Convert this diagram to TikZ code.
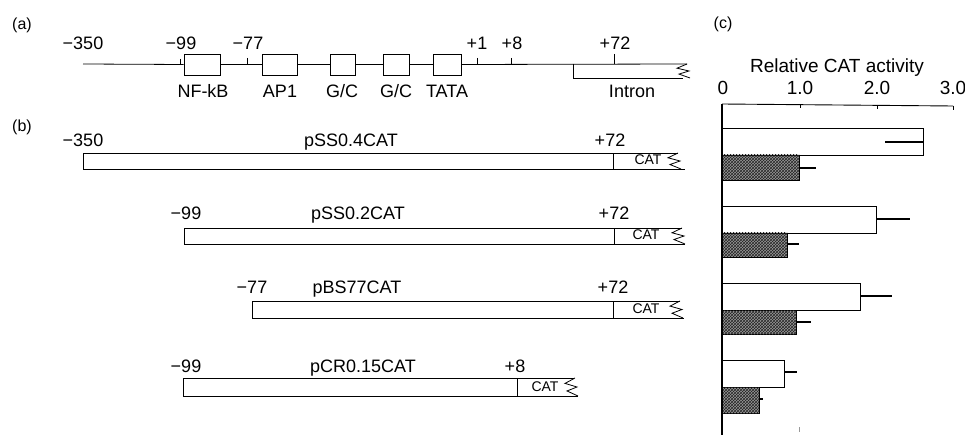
\documentclass[tikz,border=0pt]{standalone}
\usepackage{fontspec}
\setmainfont{Liberation Sans}
\usetikzlibrary{patterns}
\tikzset{
  lab/.style={font=\fontsize{18}{20}\selectfont, anchor=base, inner sep=0pt},
  plab/.style={font=\fontsize{16}{18}\selectfont, anchor=base, inner sep=0pt},
  biglab/.style={font=\fontsize{19}{21}\selectfont, anchor=base, inner sep=0pt},
  catlab/.style={font=\fontsize{14}{16}\selectfont, anchor=base, inner sep=0pt},
  ln/.style={line width=0.8pt},
  elem/.style={draw, line width=0.8pt, fill=white, inner sep=0pt, minimum height=21pt},
  wbar/.style={draw, line width=0.9pt, fill=white},
  hbar/.style={draw, line width=0.9pt, fill=black!40, postaction={pattern=crosshatch, pattern color=black!85}},
  err/.style={line width=1.2pt},
}
\newcommand{\zigend}[3]{% x, ytop, ybot
  \draw[ln] (#1,#2) -- ({#1-10},{#2+0.3*(#3-#2)}) -- ({#1+2},{#2+0.5*(#3-#2)})
    -- ({#1-8},{#2+0.72*(#3-#2)}) -- ({#1+3},{#3});}
\begin{document}
\begin{tikzpicture}[x=1pt,y=-1pt]
\useasboundingbox (0,0) rectangle (965,435);

% ---------------- (a) ----------------
\node[plab] (la) at (22,30) {(a)};
\coordinate (a0) at (83,64);
\coordinate (aend) at (687,64);
\node[elem, minimum width=36pt] (nfkb) at (202,64.5) {};
\node[elem, minimum width=35pt] (ap1)  at (279.5,64.5) {};
\node[elem, minimum width=25pt] (gc1)  at (342.5,64.5) {};
\node[elem, minimum width=26pt] (gc2)  at (396,64.5) {};
\node[elem, minimum width=28pt] (tata) at (447,64.5) {};
\draw[ln] (a0) -- (nfkb.west);
\draw[ln] (nfkb.east) -- (ap1.west);
\draw[ln] (ap1.east) -- (gc1.west);
\draw[ln] (gc1.east) -- (gc2.west);
\draw[ln] (gc2.east) -- (tata.west);
\draw[ln] (tata.east) -- (aend);
% intron box
\draw[ln] (573,64) -- (573,78) -- (683,78);
\zigend{687}{64}{78}
% ticks
\draw[ln] (180,59) -- (180,64);
\draw[ln] (247,58) -- (247,64);
\draw[ln] (477,58) -- (477,64);
\draw[ln] (511,58) -- (511,64);
\draw[ln] (614,54) -- (614,64);
% numbers
\node[lab] (n350) at (83,50) {−350};
\node[lab] (n99)  at (181,50) {−99};
\node[lab] (n77)  at (248,50) {−77};
\node[lab] (p1)   at (477,50) {+1};
\node[lab] (p8)   at (512,50) {+8};
\node[lab] (p72)  at (615,50) {+72};
% element labels
\node[lab] (tnf)  at (203,98) {NF-kB};
\node[lab] (tap)  at (280,98) {AP1};
\node[lab] (tg1)  at (342,98) {G/C};
\node[lab] (tg2)  at (396,98) {G/C};
\node[lab] (tta)  at (447,98) {TATA};
\node[lab] (tin)  at (632,98) {Intron};

% ---------------- (b) ----------------
\node[plab] (lb) at (22,132) {(b)};
% row 1
\draw[ln] (83,153) rectangle (613,169);
\draw[ln] (613,153) -- (678,153);
\draw[ln] (613,169) -- (685,169);
\zigend{678}{153}{169}
\node[lab] (r1a) at (83,147) {−350};
\node[lab] (r1n) at (351,147) {pSS0.4CAT};
\node[lab] (r1b) at (610,147) {+72};
\node[catlab] (r1c) at (648,165) {CAT};
% row 2
\draw[ln] (184,228) rectangle (614,244);
\draw[ln] (614,228) -- (682,228);
\draw[ln] (614,244) -- (685,244);
\zigend{682}{228}{244}
\node[lab] (r2a) at (186,220) {−99};
\node[lab] (r2n) at (358,220) {pSS0.2CAT};
\node[lab] (r2b) at (614,220) {+72};
\node[catlab] (r2c) at (646,240) {CAT};
% row 3
\draw[ln] (252,301) rectangle (613,318);
\draw[ln] (613,301) -- (680,301);
\draw[ln] (613,318) -- (684,318);
\zigend{680}{301}{318}
\node[lab] (r3a) at (252,294) {−77};
\node[lab] (r3n) at (357,294) {pBS77CAT};
\node[lab] (r3b) at (613,294) {+72};
\node[catlab] (r3c) at (646,313) {CAT};
% row 4
\draw[ln] (183,378) rectangle (517,396);
\draw[ln] (517,378) -- (574,378);
\draw[ln] (517,396) -- (578,396);
\zigend{575}{378}{396}
\node[lab] (r4a) at (186,372) {−99};
\node[lab] (r4n) at (363,372) {pCR0.15CAT};
\node[lab] (r4b) at (515,372) {+8};
\node[catlab] (r4c) at (545,391) {CAT};

% ---------------- (c) ----------------
\node[plab] (lc) at (723,29) {(c)};
\node[biglab] (ttl) at (837,73) {Relative CAT activity};
\node[biglab] (x0) at (723,95) {0};
\node[biglab] (x1) at (800,95) {1.0};
\node[biglab] (x2) at (877,95) {2.0};
\node[biglab] (x3) at (953,95) {3.0};
\draw[line width=0.9pt] (722,104) -- (953,106);
\draw[ln] (800,104.7) -- (800,108.5);
\draw[ln] (877,105.3) -- (877,109);
\draw[ln] (953,106) -- (953,110);
% bars
\draw[wbar] (722,128) rectangle (923,155);
\draw[err]  (923,142) -- (885,142);
\draw[hbar] (722,155) rectangle (799,180);
\draw[err]  (799,168) -- (816,168);
\draw[wbar] (722,206) rectangle (876,233);
\draw[err]  (876,219) -- (910,219);
\draw[hbar] (722,233) rectangle (787,257);
\draw[err]  (787,244) -- (799,244);
\draw[wbar] (722,283) rectangle (860,310);
\draw[err]  (860,296) -- (892,296);
\draw[hbar] (722,310) rectangle (796,334);
\draw[err]  (796,322) -- (811,322);
\draw[wbar] (722,360) rectangle (784,387);
\draw[err]  (784,372) -- (797,372);
\draw[hbar] (722,387) rectangle (759,413);
\draw[err]  (759,399) -- (763,399);
\draw[line width=1.1pt] (722,104) -- (722,435);
\draw[line width=0.6pt, black!40] (799,427) -- (799,432);
\end{tikzpicture}
\end{document}
